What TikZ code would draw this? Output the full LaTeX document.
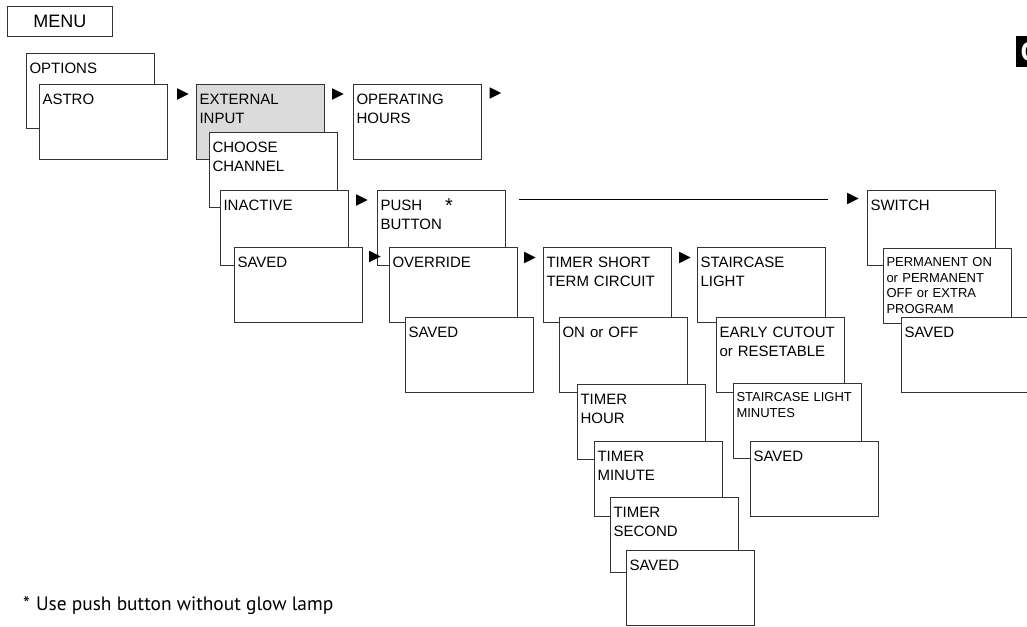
\documentclass[tikz,border=0pt]{standalone}
\usepackage{fontspec}
\setmainfont{Liberation Sans}
\newfontfamily\notefont{PT Sans}
\usetikzlibrary{shapes.geometric}

\begin{document}
\begin{tikzpicture}[x=1pt, y=-1pt,
    menubox/.style={draw=black!80, line width=0.9pt, fill=white, anchor=north west,
                    inner xsep=3.5pt, inner ysep=0pt, outer sep=0pt, text width=121pt, align=left,
                    text height=20.4pt, text depth=54.6pt, font=\fontsize{15}{19.5}\selectfont},
    smallbox/.style={menubox, text height=18.7pt, text depth=56.3pt, font=\fontsize{13}{15.5}\selectfont},
    tri/.style={isosceles triangle, isosceles triangle stretches, fill=black, inner sep=0pt,
                outer sep=0pt, minimum width=11.5pt, minimum height=11.5pt, anchor=west}]
    \useasboundingbox (0,0) rectangle (1027,626);
    \clip (0,0) rectangle (1027,626);

    \node[draw=black!80, line width=0.9pt, minimum width=105pt, minimum height=30pt, anchor=north west,
          inner sep=0pt, font=\fontsize{18}{20}\selectfont] (menu) at (7,6) {MENU};

    \node[menubox] (options) at (26,53) {OPTIONS};
    \node[menubox] (astro) at (39,84) {ASTRO};
    \node[tri] (t1) at (177,94) {};
    \node[menubox, fill=gray!28] (extinput) at (196,84) {EXTERNAL\\INPUT};
    \node[tri] (t2) at (332,94) {};
    \node[menubox] (ophours) at (353,84) {OPERATING\\HOURS};
    \node[tri] (t3) at (489.5,93) {};
    \node[menubox] (channel) at (209,132) {CHOOSE\\CHANNEL};
    \node[menubox] (inactive) at (220,190) {INACTIVE};
    \node[menubox] (saved1) at (234,247) {SAVED};

    \node[tri] (t4) at (356,200) {};
    \node[menubox] (push) at (377,190) {PUSH\hspace{23pt}\raisebox{-2pt}{\fontsize{20}{20}\selectfont *}\\BUTTON};
    \node[tri] (t5) at (369,256.5) {};
    \node[menubox] (override) at (389,247) {OVERRIDE};
    \node[menubox] (saved2) at (405,317) {SAVED};

    \node[tri] (t6) at (524,257.5) {};
    \node[menubox] (timershort) at (543,247) {TIMER SHORT\\TERM CIRCUIT};
    \node[menubox] (onoff) at (559,317) {ON or OFF};
    \node[menubox] (hour) at (577,384) {TIMER\\HOUR};
    \node[menubox] (minute) at (594,441) {TIMER\\MINUTE};
    \node[menubox] (second) at (610,497) {TIMER\\SECOND};
    \node[menubox] (saved5) at (626,550) {SAVED};

    \node[tri] (t7) at (679,257.5) {};
    \node[menubox] (staircase) at (697,247) {STAIRCASE\\LIGHT};
    \node[menubox] (cutout) at (716,317) {EARLY CUTOUT\\or RESETABLE};
    \node[smallbox] (minutes) at (733,383) {STAIRCASE LIGHT\\MINUTES};
    \node[menubox] (saved4) at (750,441) {SAVED};

    \coordinate (lineA) at (519,199.5);
    \coordinate (lineB) at (828,199.5);
    \draw[line width=1.8pt] (lineA) -- (lineB);
    \node[tri] (t8) at (847,198.5) {};
    \node[menubox] (switch) at (867,190) {SWITCH};
    \node[smallbox] (permanent) at (883,248) {PERMANENT ON\\or PERMANENT\\OFF or EXTRA\\PROGRAM};
    \node[menubox] (saved3) at (901,317) {SAVED};

    \fill[black] (1016,36) rectangle (1030,67);
    \node[white, anchor=west, inner sep=0pt, font=\bfseries\fontsize{28}{28}\selectfont] (tab) at (1020.3,52) {G};

    \node[anchor=base west, inner sep=0pt, font=\notefont\fontsize{19.4}{22}\selectfont] (note) at (23,610)
        {*\hspace{6pt}Use push button without glow lamp};
\end{tikzpicture}
\end{document}
